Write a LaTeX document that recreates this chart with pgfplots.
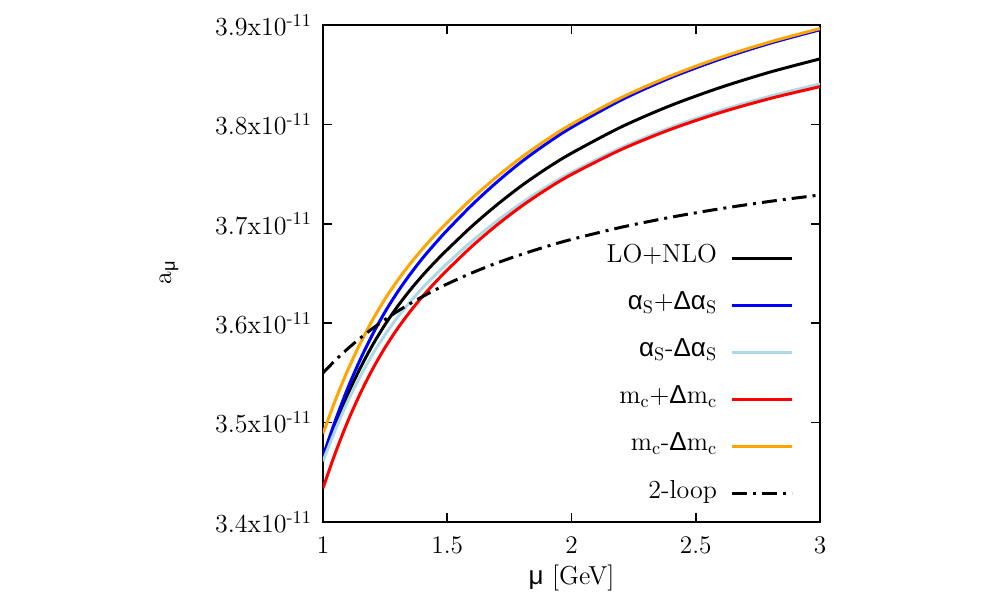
\documentclass[border=0pt]{standalone}
\usepackage{fontspec}
\newfontfamily\gr{Liberation Sans}
\usepackage{pgfplots}
\usepackage{pgfplotstable}
\pgfplotsset{compat=1.18}
\definecolor{lblue}{RGB}{173,216,230}
\definecolor{gorange}{RGB}{255,165,0}

% a_mu in units of 1e-11
\pgfplotstableread{
x    lonlo  asp    asm    mcp    mcm    twoloop
1.00 3.4660 3.4660 3.4610 3.4340 3.4890 3.5500
1.05 3.4990 3.5023 3.4929 3.4697 3.5227 3.5628
1.10 3.5287 3.5348 3.5215 3.5014 3.5530 3.5744
1.15 3.5549 3.5635 3.5466 3.5293 3.5797 3.5850
1.20 3.5782 3.5890 3.5689 3.5540 3.6035 3.5948
1.25 3.5987 3.6115 3.5886 3.5756 3.6245 3.6037
1.30 3.6169 3.6313 3.6059 3.5946 3.6430 3.6120
1.35 3.6331 3.6490 3.6213 3.6115 3.6596 3.6196
1.40 3.6479 3.6652 3.6354 3.6268 3.6747 3.6267
1.45 3.6614 3.6798 3.6481 3.6406 3.6885 3.6333
1.50 3.6740 3.6936 3.6601 3.6535 3.7014 3.6395
1.60 3.6977 3.7191 3.6826 3.6775 3.7256 3.6507
1.70 3.7191 3.7420 3.7028 3.6988 3.7474 3.6606
1.80 3.7385 3.7626 3.7211 3.7179 3.7671 3.6693
1.90 3.7557 3.7807 3.7373 3.7347 3.7846 3.6772
2.00 3.7710 3.7969 3.7518 3.7496 3.8002 3.6843
2.20 3.7974 3.8245 3.7766 3.7747 3.8269 3.6965
2.40 3.8191 3.8471 3.7970 3.7951 3.8489 3.7066
2.60 3.8372 3.8658 3.8140 3.8120 3.8674 3.7152
2.80 3.8527 3.8817 3.8284 3.8261 3.8830 3.7226
3.00 3.8659 3.8952 3.8407 3.8380 3.8964 3.7290
}\amu

\begin{document}
\begin{tikzpicture}
\useasboundingbox (-6.46cm,-1.52cm) rectangle (13.46cm,10.44cm);
\begin{axis}[
    at={(0,0)}, anchor=south west,
    scale only axis, width=9.94cm, height=9.94cm,
    xmin=1, xmax=3, ymin=3.4, ymax=3.9,
    xtick={1,1.5,2,2.5,3},
    ytick={3.4,3.5,3.6,3.7,3.8,3.9},
    yticklabels={3.4x10\textsuperscript{-11},3.5x10\textsuperscript{-11},3.6x10\textsuperscript{-11},3.7x10\textsuperscript{-11},3.8x10\textsuperscript{-11},3.9x10\textsuperscript{-11}},
    tick align=inside,
    major tick length=0.18cm,
    axis line style={line width=1.1pt},
    every tick/.style={black, line width=0.9pt},
    tick label style={font=\fontsize{14.8}{17}\selectfont},
    xticklabel style={yshift=-0.18cm},
    yticklabel style={xshift=-0.1cm},
    xlabel={{\gr μ} [GeV]},
    xlabel style={font=\fontsize{14.8}{17}\selectfont, at={(axis description cs:0.5,-0.113)}, anchor=center},
    ylabel={a\textsubscript{\gr μ}},
    ylabel style={font=\fontsize{14.8}{17}\selectfont, at={(axis description cs:-0.31,0.503)}, anchor=center},
    legend cell align=right,
    legend plot pos=right,
    legend image code/.code={\draw[#1] (0cm,0cm) -- (1.2cm,0cm);},
    legend style={at={(axis description cs:0.957,0.558)}, anchor=north east,
        draw=none, fill=none, font=\fontsize{14.8}{17}\selectfont, row sep=15.8pt, column sep=0.26cm,
        nodes={inner sep=0pt, text height=0.8em, text depth=0.3em}},
    every axis plot/.append style={line width=1.7pt, smooth},
]
\addplot[black] table[x=x, y=lonlo] {\amu};
\addlegendentry{LO+NLO}
\addplot[blue] table[x=x, y=asp] {\amu};
\addlegendentry{{\gr α}\textsubscript{S}+{\gr Δα}\textsubscript{S}}
\addplot[lblue] table[x=x, y=asm] {\amu};
\addlegendentry{{\gr α}\textsubscript{S}-{\gr Δα}\textsubscript{S}}
\addplot[red] table[x=x, y=mcp] {\amu};
\addlegendentry{m\textsubscript{c}+{\gr Δ}m\textsubscript{c}}
\addplot[gorange] table[x=x, y=mcm] {\amu};
\addlegendentry{m\textsubscript{c}-{\gr Δ}m\textsubscript{c}}
\addplot[black, dash pattern=on 0.3cm off 0.12cm on 0.06cm off 0.12cm] table[x=x, y=twoloop] {\amu};
\addlegendentry{2-loop}
\end{axis}
\end{tikzpicture}
\end{document}
